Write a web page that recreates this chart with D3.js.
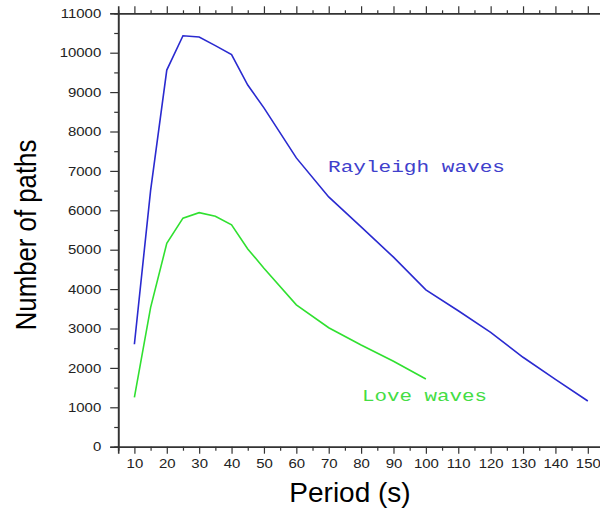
<!DOCTYPE html>
<html>
<head>
<meta charset="utf-8">
<script src="https://cdn.jsdelivr.net/npm/d3@7"></script>
<style>
  body { margin: 0; background: #fff; }
  svg { display: block; }
</style>
</head>
<body>
<div id="chart"></div>
<script>
/* Number of paths vs period, Rayleigh and Love waves */

const rayleighPeriods = [10, 15, 20, 25, 30, 35, 40, 45, 50, 60, 70, 80, 90, 100, 110, 120, 130, 140, 150];
const rayleighPaths = [2600, 6500, 9560, 10430, 10400, 10180, 9950, 9180, 8600, 7330, 6340, 5580, 4810, 3980, 3450, 2900, 2270, 1710, 1160];

const lovePeriods = [10, 15, 20, 25, 30, 35, 40, 45, 50, 60, 70, 80, 90, 100];
const lovePaths = [1250, 3530, 5160, 5800, 5940, 5850, 5630, 5020, 4530, 3600, 3020, 2580, 2170, 1720];

const xTicks = d3.range(10, 151, 10);
const yTicks = d3.range(0, 11001, 1000);

const width = 600,
    height = 510,
    margin = ({top: 13.3, right: -4, bottom: 63.3, left: 118.2});

let svg = d3.select("#chart")
    .append("svg")
    .attr("width", width)
    .attr("height", height);

const x = d3.scaleLinear()
    .domain([5, 155])
    .range([margin.left, width - margin.right]);

const y = d3.scaleLinear()
    .domain([0, 11000])
    .range([height - margin.bottom, margin.top]);

const axisColor = "#333";

/* minor ticks first, then the major ones with labels */
const xMinor = d3.range(15, 156, 10);
const yMinor = d3.range(500, 11000, 1000);

svg.append("g")
    .attr("transform", `translate(0,${y(0)})`)
    .call(d3.axisBottom(x).tickValues(xMinor).tickSize(4).tickFormat(""));
svg.append("g")
    .attr("transform", `translate(0,${y(0)})`)
    .call(d3.axisBottom(x).tickValues(xTicks).tickSize(7).tickPadding(3).tickFormat(d3.format("d")))
    .attr("class", "xlab");

svg.append("g")
    .attr("transform", `translate(0,${y(11000)})`)
    .call(d3.axisTop(x).tickValues(xMinor).tickSize(3).tickFormat(""));
svg.append("g")
    .attr("transform", `translate(0,${y(11000)})`)
    .call(d3.axisTop(x).tickValues(xTicks).tickSize(7).tickFormat(""));

svg.append("g")
    .attr("transform", `translate(${x(5)},0)`)
    .call(d3.axisLeft(y).tickValues(yMinor).tickSize(4).tickFormat(""));
svg.append("g")
    .attr("transform", `translate(${x(5)},0)`)
    .call(d3.axisLeft(y).tickValues(yTicks).tickSize(8).tickPadding(9).tickFormat(d3.format("d")))
    .attr("class", "ylab");

svg.selectAll(".domain").attr("stroke", axisColor).attr("stroke-width", 1.6);
svg.selectAll(".tick line").attr("stroke", axisColor).attr("stroke-width", 1.2);
svg.selectAll(".tick text")
    .attr("fill", "#222")
    .style("font-family", "'Liberation Sans', Arial, sans-serif")
    .style("font-size", "13px");

/* the picture is a little stretched sideways */
svg.selectAll(".ylab .tick text")
    .attr("x", null)
    .attr("transform", "translate(-17,0) scale(1.15,1)");
svg.selectAll(".xlab .tick text")
    .attr("y", null)
    .attr("dy", null)
    .attr("transform", "translate(0,21) scale(1.15,1)");

const line = d3.line()
    .x(d => x(d[0]))
    .y(d => y(d[1]));

const rayleigh = rayleighPeriods.map((p, i) => [p, rayleighPaths[i]]);
const love = lovePeriods.map((p, i) => [p, lovePaths[i]]);

svg.append("path")
    .datum(rayleigh)
    .attr("fill", "none")
    .attr("stroke", "#2a2ad0")
    .attr("stroke-width", 1.6)
    .attr("d", line);

svg.append("path")
    .datum(love)
    .attr("fill", "none")
    .attr("stroke", "#30e030")
    .attr("stroke-width", 1.6)
    .attr("d", line);

/* series labels */
svg.append("text")
    .text("Rayleigh waves")
    .attr("x", 328)
    .attr("y", 172)
    .attr("textLength", 177)
    .attr("lengthAdjust", "spacingAndGlyphs")
    .attr("fill", "#4040cc")
    .style("font-family", "'Liberation Mono', 'Courier New', monospace")
    .style("font-size", "16px");

svg.append("text")
    .text("Love waves")
    .attr("x", 362)
    .attr("y", 401)
    .attr("textLength", 125)
    .attr("lengthAdjust", "spacingAndGlyphs")
    .attr("fill", "#44dd44")
    .style("font-family", "'Liberation Mono', 'Courier New', monospace")
    .style("font-size", "16px");

/* axis titles */
svg.append("text")
    .text("Period (s)")
    .attr("x", 350)
    .attr("y", 502)
    .attr("text-anchor", "middle")
    .attr("fill", "#000")
    .style("font-family", "'Liberation Sans', Arial, sans-serif")
    .style("font-size", "28px");

svg.append("text")
    .text("Number of paths")
    .attr("transform", `translate(36,${(y(0) + y(11000)) / 2 + 5}) rotate(-90) scale(0.86,1)`)
    .attr("text-anchor", "middle")
    .attr("fill", "#000")
    .style("font-family", "'Liberation Sans', Arial, sans-serif")
    .style("font-size", "30px");
</script>
</body>
</html>
